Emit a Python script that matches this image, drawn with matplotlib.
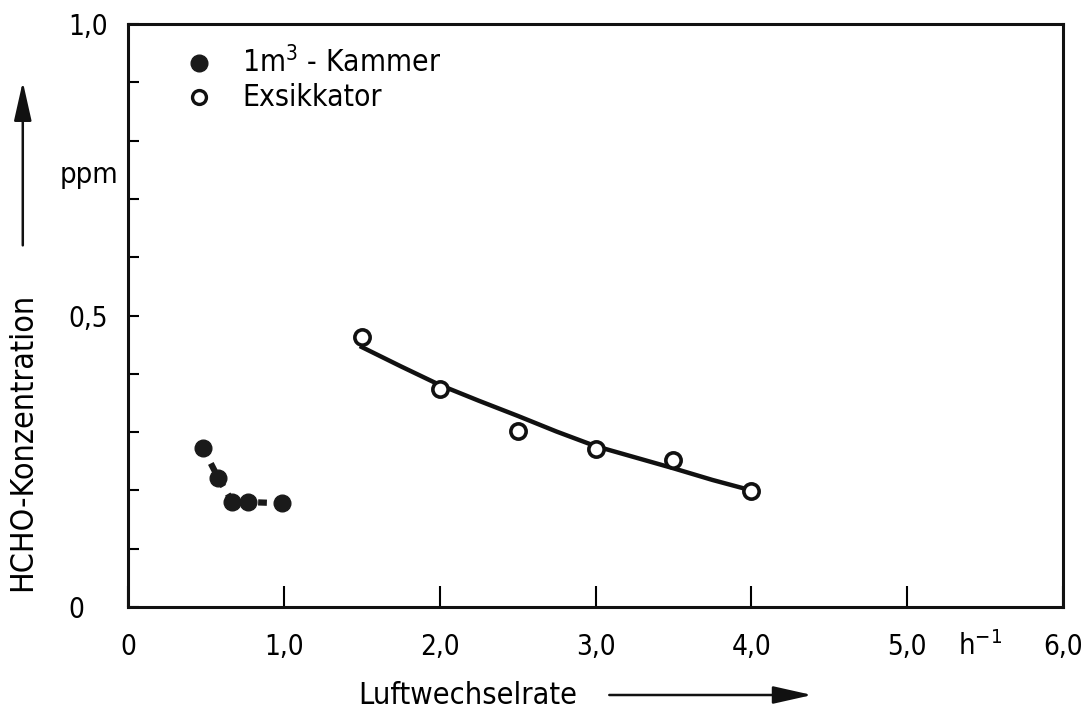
import numpy as np
import matplotlib
matplotlib.use('Agg')
import matplotlib.pyplot as plt
from matplotlib.ticker import MultipleLocator, FixedLocator

plt.rcParams['font.family'] = ['DejaVu Sans']
plt.rcParams['font.stretch'] = 'condensed'

# 1 m^3 chamber (filled dots)
kammer_x = [0.48, 0.58, 0.67, 0.77, 0.99]
kammer_y = [0.273, 0.221, 0.180, 0.180, 0.178]

# desiccator (open dots)
exs_x = [1.5, 2.0, 2.5, 3.0, 3.5, 4.0]
exs_y = [0.463, 0.374, 0.302, 0.271, 0.252, 0.199]

# fitted curve through the desiccator values
fit_x = [1.5, 1.75, 2.0, 2.25, 2.5, 2.75, 3.0, 3.25, 3.5, 3.75, 4.0]
fit_y = [0.446, 0.413, 0.381, 0.354, 0.328, 0.301, 0.276, 0.257, 0.238, 0.218, 0.200]

x_ticks = [0, 1, 2, 3, 4, 5, 6]
x_labels = ['0', '1,0', '2,0', '3,0', '4,0', '5,0', '6,0']
y_ticks = [0, 0.5, 1.0]
y_labels = ['0', '0,5', '1,0']

FS = 20

fig = plt.figure(figsize=(10.85, 7.11), dpi=100)
ax = fig.add_axes([0.118, 0.1463, 0.8617, 0.8197])

ax.plot(kammer_x, kammer_y, color='#1a1a1a', lw=4.5, ls=(0, (1.4, 1.4)),
        dash_capstyle='butt', zorder=2)
ax.plot(kammer_x, kammer_y, 'o', color='#1a1a1a', ms=12, zorder=3)

ax.plot(fit_x, fit_y, color='#111111', lw=3.2, zorder=2)
ax.plot(exs_x, exs_y, 'o', mfc='white', mec='#111111', mew=2.6, ms=11, zorder=3)

ax.set_xlim(0, 6)
ax.set_ylim(0, 1)

for s in ax.spines.values():
    s.set_linewidth(2.2)
    s.set_color('#111111')

ax.xaxis.set_major_locator(FixedLocator(x_ticks))
ax.set_xticklabels(x_labels)
ax.yaxis.set_major_locator(FixedLocator(y_ticks))
ax.set_yticklabels(y_labels)
ax.yaxis.set_minor_locator(MultipleLocator(0.1))

ax.tick_params(axis='x', direction='in', length=15, width=1.5, pad=19,
               labelsize=FS, top=False)
ax.tick_params(axis='y', which='both', direction='in', length=8, width=1.5,
               pad=43, labelsize=FS, right=False)
for lbl in ax.get_yticklabels():
    lbl.set_horizontalalignment('left')

# unit labels
ax.text(-0.25, 0.741, 'ppm', fontsize=21, ha='center', va='center',
        clip_on=False)
ax.text(5.47, -0.082, 'h$^{-1}$', fontsize=21, ha='center', va='baseline',
        clip_on=False)

# legend
ax.plot([0.456], [0.933], 'o', color='#1a1a1a', ms=12, clip_on=False)
ax.plot([0.456], [0.875], 'o', mfc='white', mec='#111111', mew=2.4, ms=10)
ax.text(0.732, 0.935, '1m$^3$ - Kammer', fontsize=21.5, va='center')
ax.text(0.732, 0.875, 'Exsikkator', fontsize=21.5, va='center')

# axis titles with arrows
fig.text(0.021, 0.378, 'HCHO-Konzentration', rotation=90, fontsize=23,
         ha='center', va='center')
fig.patches.append(matplotlib.patches.FancyArrowPatch(
    (0.021, 0.651), (0.021, 0.889), transform=fig.transFigure,
    arrowstyle='-|>,head_length=12,head_width=2.7', lw=1.8, color='#111111',
    mutation_scale=2))
fig.text(0.431, 0.01, 'Luftwechselrate', fontsize=22, ha='center',
         va='baseline')
fig.patches.append(matplotlib.patches.FancyArrowPatch(
    (0.559, 0.0225), (0.751, 0.0225), transform=fig.transFigure,
    arrowstyle='-|>,head_length=12,head_width=2.7', lw=1.8, color='#111111',
    mutation_scale=2))

fig.savefig('out.png', dpi=100)
